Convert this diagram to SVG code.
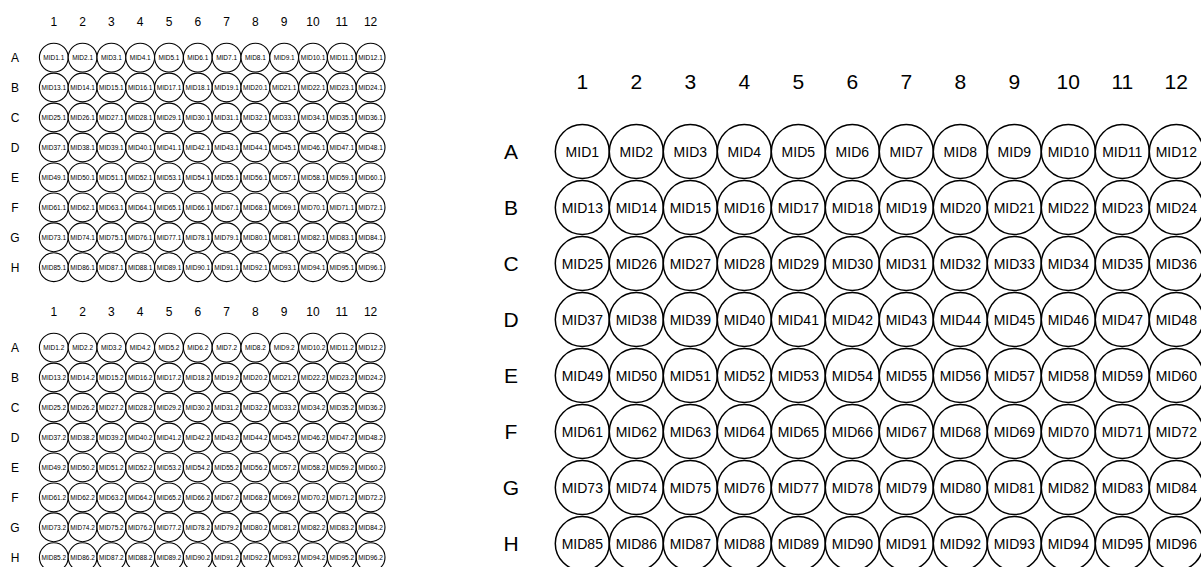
<svg xmlns="http://www.w3.org/2000/svg" width="1201" height="567" viewBox="0 0 1201 567">
<style>
text{font-family:"Liberation Sans",Arial,Helvetica,sans-serif;fill:#000;text-anchor:middle}
.cs{fill:#fff;stroke:#000;stroke-width:1.1}
.cl{fill:#fff;stroke:#000;stroke-width:1.5}
.ts{font-size:6.5px}
.tl{font-size:14px}
.hs{font-size:12px}
.hl{font-size:21px}
</style>
<rect width="1201" height="567" fill="#fff"/>
<defs>
<circle id="cS" class="cs" r="14.4"/>
<circle id="cL" class="cl" r="27"/>
</defs>
<g id="connectors"></g>

<g id="plate1">
<g id="plate1-headers" class="hs">
<text x="53.8" y="26">1</text><text x="82.6" y="26">2</text><text x="111.4" y="26">3</text><text x="140.2" y="26">4</text><text x="169" y="26">5</text><text x="197.8" y="26">6</text><text x="226.6" y="26">7</text><text x="255.4" y="26">8</text><text x="284.2" y="26">9</text><text x="313" y="26">10</text><text x="341.8" y="26">11</text><text x="370.6" y="26">12</text>
<text x="15" y="61.9">A</text><text x="15" y="91.8">B</text><text x="15" y="121.8">C</text><text x="15" y="151.8">D</text><text x="15" y="181.7">E</text><text x="15" y="211.7">F</text><text x="15" y="241.6">G</text><text x="15" y="271.5">H</text>
</g>
<g id="p1-A1" transform="translate(53.8 57.6)"><use href="#cS"/><text class="ts" dy="2.3">MID1.1</text></g>
<g id="p1-A2" transform="translate(82.6 57.6)"><use href="#cS"/><text class="ts" dy="2.3">MID2.1</text></g>
<g id="p1-A3" transform="translate(111.4 57.6)"><use href="#cS"/><text class="ts" dy="2.3">MID3.1</text></g>
<g id="p1-A4" transform="translate(140.2 57.6)"><use href="#cS"/><text class="ts" dy="2.3">MID4.1</text></g>
<g id="p1-A5" transform="translate(169 57.6)"><use href="#cS"/><text class="ts" dy="2.3">MID5.1</text></g>
<g id="p1-A6" transform="translate(197.8 57.6)"><use href="#cS"/><text class="ts" dy="2.3">MID6.1</text></g>
<g id="p1-A7" transform="translate(226.6 57.6)"><use href="#cS"/><text class="ts" dy="2.3">MID7.1</text></g>
<g id="p1-A8" transform="translate(255.4 57.6)"><use href="#cS"/><text class="ts" dy="2.3">MID8.1</text></g>
<g id="p1-A9" transform="translate(284.2 57.6)"><use href="#cS"/><text class="ts" dy="2.3">MID9.1</text></g>
<g id="p1-A10" transform="translate(313 57.6)"><use href="#cS"/><text class="ts" dy="2.3">MID10.1</text></g>
<g id="p1-A11" transform="translate(341.8 57.6)"><use href="#cS"/><text class="ts" dy="2.3">MID11.1</text></g>
<g id="p1-A12" transform="translate(370.6 57.6)"><use href="#cS"/><text class="ts" dy="2.3">MID12.1</text></g>
<g id="p1-B1" transform="translate(53.8 87.5)"><use href="#cS"/><text class="ts" dy="2.3">MID13.1</text></g>
<g id="p1-B2" transform="translate(82.6 87.5)"><use href="#cS"/><text class="ts" dy="2.3">MID14.1</text></g>
<g id="p1-B3" transform="translate(111.4 87.5)"><use href="#cS"/><text class="ts" dy="2.3">MID15.1</text></g>
<g id="p1-B4" transform="translate(140.2 87.5)"><use href="#cS"/><text class="ts" dy="2.3">MID16.1</text></g>
<g id="p1-B5" transform="translate(169 87.5)"><use href="#cS"/><text class="ts" dy="2.3">MID17.1</text></g>
<g id="p1-B6" transform="translate(197.8 87.5)"><use href="#cS"/><text class="ts" dy="2.3">MID18.1</text></g>
<g id="p1-B7" transform="translate(226.6 87.5)"><use href="#cS"/><text class="ts" dy="2.3">MID19.1</text></g>
<g id="p1-B8" transform="translate(255.4 87.5)"><use href="#cS"/><text class="ts" dy="2.3">MID20.1</text></g>
<g id="p1-B9" transform="translate(284.2 87.5)"><use href="#cS"/><text class="ts" dy="2.3">MID21.1</text></g>
<g id="p1-B10" transform="translate(313 87.5)"><use href="#cS"/><text class="ts" dy="2.3">MID22.1</text></g>
<g id="p1-B11" transform="translate(341.8 87.5)"><use href="#cS"/><text class="ts" dy="2.3">MID23.1</text></g>
<g id="p1-B12" transform="translate(370.6 87.5)"><use href="#cS"/><text class="ts" dy="2.3">MID24.1</text></g>
<g id="p1-C1" transform="translate(53.8 117.5)"><use href="#cS"/><text class="ts" dy="2.3">MID25.1</text></g>
<g id="p1-C2" transform="translate(82.6 117.5)"><use href="#cS"/><text class="ts" dy="2.3">MID26.1</text></g>
<g id="p1-C3" transform="translate(111.4 117.5)"><use href="#cS"/><text class="ts" dy="2.3">MID27.1</text></g>
<g id="p1-C4" transform="translate(140.2 117.5)"><use href="#cS"/><text class="ts" dy="2.3">MID28.1</text></g>
<g id="p1-C5" transform="translate(169 117.5)"><use href="#cS"/><text class="ts" dy="2.3">MID29.1</text></g>
<g id="p1-C6" transform="translate(197.8 117.5)"><use href="#cS"/><text class="ts" dy="2.3">MID30.1</text></g>
<g id="p1-C7" transform="translate(226.6 117.5)"><use href="#cS"/><text class="ts" dy="2.3">MID31.1</text></g>
<g id="p1-C8" transform="translate(255.4 117.5)"><use href="#cS"/><text class="ts" dy="2.3">MID32.1</text></g>
<g id="p1-C9" transform="translate(284.2 117.5)"><use href="#cS"/><text class="ts" dy="2.3">MID33.1</text></g>
<g id="p1-C10" transform="translate(313 117.5)"><use href="#cS"/><text class="ts" dy="2.3">MID34.1</text></g>
<g id="p1-C11" transform="translate(341.8 117.5)"><use href="#cS"/><text class="ts" dy="2.3">MID35.1</text></g>
<g id="p1-C12" transform="translate(370.6 117.5)"><use href="#cS"/><text class="ts" dy="2.3">MID36.1</text></g>
<g id="p1-D1" transform="translate(53.8 147.5)"><use href="#cS"/><text class="ts" dy="2.3">MID37.1</text></g>
<g id="p1-D2" transform="translate(82.6 147.5)"><use href="#cS"/><text class="ts" dy="2.3">MID38.1</text></g>
<g id="p1-D3" transform="translate(111.4 147.5)"><use href="#cS"/><text class="ts" dy="2.3">MID39.1</text></g>
<g id="p1-D4" transform="translate(140.2 147.5)"><use href="#cS"/><text class="ts" dy="2.3">MID40.1</text></g>
<g id="p1-D5" transform="translate(169 147.5)"><use href="#cS"/><text class="ts" dy="2.3">MID41.1</text></g>
<g id="p1-D6" transform="translate(197.8 147.5)"><use href="#cS"/><text class="ts" dy="2.3">MID42.1</text></g>
<g id="p1-D7" transform="translate(226.6 147.5)"><use href="#cS"/><text class="ts" dy="2.3">MID43.1</text></g>
<g id="p1-D8" transform="translate(255.4 147.5)"><use href="#cS"/><text class="ts" dy="2.3">MID44.1</text></g>
<g id="p1-D9" transform="translate(284.2 147.5)"><use href="#cS"/><text class="ts" dy="2.3">MID45.1</text></g>
<g id="p1-D10" transform="translate(313 147.5)"><use href="#cS"/><text class="ts" dy="2.3">MID46.1</text></g>
<g id="p1-D11" transform="translate(341.8 147.5)"><use href="#cS"/><text class="ts" dy="2.3">MID47.1</text></g>
<g id="p1-D12" transform="translate(370.6 147.5)"><use href="#cS"/><text class="ts" dy="2.3">MID48.1</text></g>
<g id="p1-E1" transform="translate(53.8 177.4)"><use href="#cS"/><text class="ts" dy="2.3">MID49.1</text></g>
<g id="p1-E2" transform="translate(82.6 177.4)"><use href="#cS"/><text class="ts" dy="2.3">MID50.1</text></g>
<g id="p1-E3" transform="translate(111.4 177.4)"><use href="#cS"/><text class="ts" dy="2.3">MID51.1</text></g>
<g id="p1-E4" transform="translate(140.2 177.4)"><use href="#cS"/><text class="ts" dy="2.3">MID52.1</text></g>
<g id="p1-E5" transform="translate(169 177.4)"><use href="#cS"/><text class="ts" dy="2.3">MID53.1</text></g>
<g id="p1-E6" transform="translate(197.8 177.4)"><use href="#cS"/><text class="ts" dy="2.3">MID54.1</text></g>
<g id="p1-E7" transform="translate(226.6 177.4)"><use href="#cS"/><text class="ts" dy="2.3">MID55.1</text></g>
<g id="p1-E8" transform="translate(255.4 177.4)"><use href="#cS"/><text class="ts" dy="2.3">MID56.1</text></g>
<g id="p1-E9" transform="translate(284.2 177.4)"><use href="#cS"/><text class="ts" dy="2.3">MID57.1</text></g>
<g id="p1-E10" transform="translate(313 177.4)"><use href="#cS"/><text class="ts" dy="2.3">MID58.1</text></g>
<g id="p1-E11" transform="translate(341.8 177.4)"><use href="#cS"/><text class="ts" dy="2.3">MID59.1</text></g>
<g id="p1-E12" transform="translate(370.6 177.4)"><use href="#cS"/><text class="ts" dy="2.3">MID60.1</text></g>
<g id="p1-F1" transform="translate(53.8 207.4)"><use href="#cS"/><text class="ts" dy="2.3">MID61.1</text></g>
<g id="p1-F2" transform="translate(82.6 207.4)"><use href="#cS"/><text class="ts" dy="2.3">MID62.1</text></g>
<g id="p1-F3" transform="translate(111.4 207.4)"><use href="#cS"/><text class="ts" dy="2.3">MID63.1</text></g>
<g id="p1-F4" transform="translate(140.2 207.4)"><use href="#cS"/><text class="ts" dy="2.3">MID64.1</text></g>
<g id="p1-F5" transform="translate(169 207.4)"><use href="#cS"/><text class="ts" dy="2.3">MID65.1</text></g>
<g id="p1-F6" transform="translate(197.8 207.4)"><use href="#cS"/><text class="ts" dy="2.3">MID66.1</text></g>
<g id="p1-F7" transform="translate(226.6 207.4)"><use href="#cS"/><text class="ts" dy="2.3">MID67.1</text></g>
<g id="p1-F8" transform="translate(255.4 207.4)"><use href="#cS"/><text class="ts" dy="2.3">MID68.1</text></g>
<g id="p1-F9" transform="translate(284.2 207.4)"><use href="#cS"/><text class="ts" dy="2.3">MID69.1</text></g>
<g id="p1-F10" transform="translate(313 207.4)"><use href="#cS"/><text class="ts" dy="2.3">MID70.1</text></g>
<g id="p1-F11" transform="translate(341.8 207.4)"><use href="#cS"/><text class="ts" dy="2.3">MID71.1</text></g>
<g id="p1-F12" transform="translate(370.6 207.4)"><use href="#cS"/><text class="ts" dy="2.3">MID72.1</text></g>
<g id="p1-G1" transform="translate(53.8 237.3)"><use href="#cS"/><text class="ts" dy="2.3">MID73.1</text></g>
<g id="p1-G2" transform="translate(82.6 237.3)"><use href="#cS"/><text class="ts" dy="2.3">MID74.1</text></g>
<g id="p1-G3" transform="translate(111.4 237.3)"><use href="#cS"/><text class="ts" dy="2.3">MID75.1</text></g>
<g id="p1-G4" transform="translate(140.2 237.3)"><use href="#cS"/><text class="ts" dy="2.3">MID76.1</text></g>
<g id="p1-G5" transform="translate(169 237.3)"><use href="#cS"/><text class="ts" dy="2.3">MID77.1</text></g>
<g id="p1-G6" transform="translate(197.8 237.3)"><use href="#cS"/><text class="ts" dy="2.3">MID78.1</text></g>
<g id="p1-G7" transform="translate(226.6 237.3)"><use href="#cS"/><text class="ts" dy="2.3">MID79.1</text></g>
<g id="p1-G8" transform="translate(255.4 237.3)"><use href="#cS"/><text class="ts" dy="2.3">MID80.1</text></g>
<g id="p1-G9" transform="translate(284.2 237.3)"><use href="#cS"/><text class="ts" dy="2.3">MID81.1</text></g>
<g id="p1-G10" transform="translate(313 237.3)"><use href="#cS"/><text class="ts" dy="2.3">MID82.1</text></g>
<g id="p1-G11" transform="translate(341.8 237.3)"><use href="#cS"/><text class="ts" dy="2.3">MID83.1</text></g>
<g id="p1-G12" transform="translate(370.6 237.3)"><use href="#cS"/><text class="ts" dy="2.3">MID84.1</text></g>
<g id="p1-H1" transform="translate(53.8 267.2)"><use href="#cS"/><text class="ts" dy="2.3">MID85.1</text></g>
<g id="p1-H2" transform="translate(82.6 267.2)"><use href="#cS"/><text class="ts" dy="2.3">MID86.1</text></g>
<g id="p1-H3" transform="translate(111.4 267.2)"><use href="#cS"/><text class="ts" dy="2.3">MID87.1</text></g>
<g id="p1-H4" transform="translate(140.2 267.2)"><use href="#cS"/><text class="ts" dy="2.3">MID88.1</text></g>
<g id="p1-H5" transform="translate(169 267.2)"><use href="#cS"/><text class="ts" dy="2.3">MID89.1</text></g>
<g id="p1-H6" transform="translate(197.8 267.2)"><use href="#cS"/><text class="ts" dy="2.3">MID90.1</text></g>
<g id="p1-H7" transform="translate(226.6 267.2)"><use href="#cS"/><text class="ts" dy="2.3">MID91.1</text></g>
<g id="p1-H8" transform="translate(255.4 267.2)"><use href="#cS"/><text class="ts" dy="2.3">MID92.1</text></g>
<g id="p1-H9" transform="translate(284.2 267.2)"><use href="#cS"/><text class="ts" dy="2.3">MID93.1</text></g>
<g id="p1-H10" transform="translate(313 267.2)"><use href="#cS"/><text class="ts" dy="2.3">MID94.1</text></g>
<g id="p1-H11" transform="translate(341.8 267.2)"><use href="#cS"/><text class="ts" dy="2.3">MID95.1</text></g>
<g id="p1-H12" transform="translate(370.6 267.2)"><use href="#cS"/><text class="ts" dy="2.3">MID96.1</text></g>
</g>

<g id="plate2" transform="translate(0 290)">
<g id="plate2-headers" class="hs">
<text x="53.8" y="26">1</text><text x="82.6" y="26">2</text><text x="111.4" y="26">3</text><text x="140.2" y="26">4</text><text x="169" y="26">5</text><text x="197.8" y="26">6</text><text x="226.6" y="26">7</text><text x="255.4" y="26">8</text><text x="284.2" y="26">9</text><text x="313" y="26">10</text><text x="341.8" y="26">11</text><text x="370.6" y="26">12</text>
<text x="15" y="61.9">A</text><text x="15" y="91.8">B</text><text x="15" y="121.8">C</text><text x="15" y="151.8">D</text><text x="15" y="181.7">E</text><text x="15" y="211.7">F</text><text x="15" y="241.6">G</text><text x="15" y="271.5">H</text>
</g>
<g id="p2-A1" transform="translate(53.8 57.6)"><use href="#cS"/><text class="ts" dy="2.3">MID1.2</text></g>
<g id="p2-A2" transform="translate(82.6 57.6)"><use href="#cS"/><text class="ts" dy="2.3">MID2.2</text></g>
<g id="p2-A3" transform="translate(111.4 57.6)"><use href="#cS"/><text class="ts" dy="2.3">MID3.2</text></g>
<g id="p2-A4" transform="translate(140.2 57.6)"><use href="#cS"/><text class="ts" dy="2.3">MID4.2</text></g>
<g id="p2-A5" transform="translate(169 57.6)"><use href="#cS"/><text class="ts" dy="2.3">MID5.2</text></g>
<g id="p2-A6" transform="translate(197.8 57.6)"><use href="#cS"/><text class="ts" dy="2.3">MID6.2</text></g>
<g id="p2-A7" transform="translate(226.6 57.6)"><use href="#cS"/><text class="ts" dy="2.3">MID7.2</text></g>
<g id="p2-A8" transform="translate(255.4 57.6)"><use href="#cS"/><text class="ts" dy="2.3">MID8.2</text></g>
<g id="p2-A9" transform="translate(284.2 57.6)"><use href="#cS"/><text class="ts" dy="2.3">MID9.2</text></g>
<g id="p2-A10" transform="translate(313 57.6)"><use href="#cS"/><text class="ts" dy="2.3">MID10.2</text></g>
<g id="p2-A11" transform="translate(341.8 57.6)"><use href="#cS"/><text class="ts" dy="2.3">MID11.2</text></g>
<g id="p2-A12" transform="translate(370.6 57.6)"><use href="#cS"/><text class="ts" dy="2.3">MID12.2</text></g>
<g id="p2-B1" transform="translate(53.8 87.5)"><use href="#cS"/><text class="ts" dy="2.3">MID13.2</text></g>
<g id="p2-B2" transform="translate(82.6 87.5)"><use href="#cS"/><text class="ts" dy="2.3">MID14.2</text></g>
<g id="p2-B3" transform="translate(111.4 87.5)"><use href="#cS"/><text class="ts" dy="2.3">MID15.2</text></g>
<g id="p2-B4" transform="translate(140.2 87.5)"><use href="#cS"/><text class="ts" dy="2.3">MID16.2</text></g>
<g id="p2-B5" transform="translate(169 87.5)"><use href="#cS"/><text class="ts" dy="2.3">MID17.2</text></g>
<g id="p2-B6" transform="translate(197.8 87.5)"><use href="#cS"/><text class="ts" dy="2.3">MID18.2</text></g>
<g id="p2-B7" transform="translate(226.6 87.5)"><use href="#cS"/><text class="ts" dy="2.3">MID19.2</text></g>
<g id="p2-B8" transform="translate(255.4 87.5)"><use href="#cS"/><text class="ts" dy="2.3">MID20.2</text></g>
<g id="p2-B9" transform="translate(284.2 87.5)"><use href="#cS"/><text class="ts" dy="2.3">MID21.2</text></g>
<g id="p2-B10" transform="translate(313 87.5)"><use href="#cS"/><text class="ts" dy="2.3">MID22.2</text></g>
<g id="p2-B11" transform="translate(341.8 87.5)"><use href="#cS"/><text class="ts" dy="2.3">MID23.2</text></g>
<g id="p2-B12" transform="translate(370.6 87.5)"><use href="#cS"/><text class="ts" dy="2.3">MID24.2</text></g>
<g id="p2-C1" transform="translate(53.8 117.5)"><use href="#cS"/><text class="ts" dy="2.3">MID25.2</text></g>
<g id="p2-C2" transform="translate(82.6 117.5)"><use href="#cS"/><text class="ts" dy="2.3">MID26.2</text></g>
<g id="p2-C3" transform="translate(111.4 117.5)"><use href="#cS"/><text class="ts" dy="2.3">MID27.2</text></g>
<g id="p2-C4" transform="translate(140.2 117.5)"><use href="#cS"/><text class="ts" dy="2.3">MID28.2</text></g>
<g id="p2-C5" transform="translate(169 117.5)"><use href="#cS"/><text class="ts" dy="2.3">MID29.2</text></g>
<g id="p2-C6" transform="translate(197.8 117.5)"><use href="#cS"/><text class="ts" dy="2.3">MID30.2</text></g>
<g id="p2-C7" transform="translate(226.6 117.5)"><use href="#cS"/><text class="ts" dy="2.3">MID31.2</text></g>
<g id="p2-C8" transform="translate(255.4 117.5)"><use href="#cS"/><text class="ts" dy="2.3">MID32.2</text></g>
<g id="p2-C9" transform="translate(284.2 117.5)"><use href="#cS"/><text class="ts" dy="2.3">MID33.2</text></g>
<g id="p2-C10" transform="translate(313 117.5)"><use href="#cS"/><text class="ts" dy="2.3">MID34.2</text></g>
<g id="p2-C11" transform="translate(341.8 117.5)"><use href="#cS"/><text class="ts" dy="2.3">MID35.2</text></g>
<g id="p2-C12" transform="translate(370.6 117.5)"><use href="#cS"/><text class="ts" dy="2.3">MID36.2</text></g>
<g id="p2-D1" transform="translate(53.8 147.5)"><use href="#cS"/><text class="ts" dy="2.3">MID37.2</text></g>
<g id="p2-D2" transform="translate(82.6 147.5)"><use href="#cS"/><text class="ts" dy="2.3">MID38.2</text></g>
<g id="p2-D3" transform="translate(111.4 147.5)"><use href="#cS"/><text class="ts" dy="2.3">MID39.2</text></g>
<g id="p2-D4" transform="translate(140.2 147.5)"><use href="#cS"/><text class="ts" dy="2.3">MID40.2</text></g>
<g id="p2-D5" transform="translate(169 147.5)"><use href="#cS"/><text class="ts" dy="2.3">MID41.2</text></g>
<g id="p2-D6" transform="translate(197.8 147.5)"><use href="#cS"/><text class="ts" dy="2.3">MID42.2</text></g>
<g id="p2-D7" transform="translate(226.6 147.5)"><use href="#cS"/><text class="ts" dy="2.3">MID43.2</text></g>
<g id="p2-D8" transform="translate(255.4 147.5)"><use href="#cS"/><text class="ts" dy="2.3">MID44.2</text></g>
<g id="p2-D9" transform="translate(284.2 147.5)"><use href="#cS"/><text class="ts" dy="2.3">MID45.2</text></g>
<g id="p2-D10" transform="translate(313 147.5)"><use href="#cS"/><text class="ts" dy="2.3">MID46.2</text></g>
<g id="p2-D11" transform="translate(341.8 147.5)"><use href="#cS"/><text class="ts" dy="2.3">MID47.2</text></g>
<g id="p2-D12" transform="translate(370.6 147.5)"><use href="#cS"/><text class="ts" dy="2.3">MID48.2</text></g>
<g id="p2-E1" transform="translate(53.8 177.4)"><use href="#cS"/><text class="ts" dy="2.3">MID49.2</text></g>
<g id="p2-E2" transform="translate(82.6 177.4)"><use href="#cS"/><text class="ts" dy="2.3">MID50.2</text></g>
<g id="p2-E3" transform="translate(111.4 177.4)"><use href="#cS"/><text class="ts" dy="2.3">MID51.2</text></g>
<g id="p2-E4" transform="translate(140.2 177.4)"><use href="#cS"/><text class="ts" dy="2.3">MID52.2</text></g>
<g id="p2-E5" transform="translate(169 177.4)"><use href="#cS"/><text class="ts" dy="2.3">MID53.2</text></g>
<g id="p2-E6" transform="translate(197.8 177.4)"><use href="#cS"/><text class="ts" dy="2.3">MID54.2</text></g>
<g id="p2-E7" transform="translate(226.6 177.4)"><use href="#cS"/><text class="ts" dy="2.3">MID55.2</text></g>
<g id="p2-E8" transform="translate(255.4 177.4)"><use href="#cS"/><text class="ts" dy="2.3">MID56.2</text></g>
<g id="p2-E9" transform="translate(284.2 177.4)"><use href="#cS"/><text class="ts" dy="2.3">MID57.2</text></g>
<g id="p2-E10" transform="translate(313 177.4)"><use href="#cS"/><text class="ts" dy="2.3">MID58.2</text></g>
<g id="p2-E11" transform="translate(341.8 177.4)"><use href="#cS"/><text class="ts" dy="2.3">MID59.2</text></g>
<g id="p2-E12" transform="translate(370.6 177.4)"><use href="#cS"/><text class="ts" dy="2.3">MID60.2</text></g>
<g id="p2-F1" transform="translate(53.8 207.4)"><use href="#cS"/><text class="ts" dy="2.3">MID61.2</text></g>
<g id="p2-F2" transform="translate(82.6 207.4)"><use href="#cS"/><text class="ts" dy="2.3">MID62.2</text></g>
<g id="p2-F3" transform="translate(111.4 207.4)"><use href="#cS"/><text class="ts" dy="2.3">MID63.2</text></g>
<g id="p2-F4" transform="translate(140.2 207.4)"><use href="#cS"/><text class="ts" dy="2.3">MID64.2</text></g>
<g id="p2-F5" transform="translate(169 207.4)"><use href="#cS"/><text class="ts" dy="2.3">MID65.2</text></g>
<g id="p2-F6" transform="translate(197.8 207.4)"><use href="#cS"/><text class="ts" dy="2.3">MID66.2</text></g>
<g id="p2-F7" transform="translate(226.6 207.4)"><use href="#cS"/><text class="ts" dy="2.3">MID67.2</text></g>
<g id="p2-F8" transform="translate(255.4 207.4)"><use href="#cS"/><text class="ts" dy="2.3">MID68.2</text></g>
<g id="p2-F9" transform="translate(284.2 207.4)"><use href="#cS"/><text class="ts" dy="2.3">MID69.2</text></g>
<g id="p2-F10" transform="translate(313 207.4)"><use href="#cS"/><text class="ts" dy="2.3">MID70.2</text></g>
<g id="p2-F11" transform="translate(341.8 207.4)"><use href="#cS"/><text class="ts" dy="2.3">MID71.2</text></g>
<g id="p2-F12" transform="translate(370.6 207.4)"><use href="#cS"/><text class="ts" dy="2.3">MID72.2</text></g>
<g id="p2-G1" transform="translate(53.8 237.3)"><use href="#cS"/><text class="ts" dy="2.3">MID73.2</text></g>
<g id="p2-G2" transform="translate(82.6 237.3)"><use href="#cS"/><text class="ts" dy="2.3">MID74.2</text></g>
<g id="p2-G3" transform="translate(111.4 237.3)"><use href="#cS"/><text class="ts" dy="2.3">MID75.2</text></g>
<g id="p2-G4" transform="translate(140.2 237.3)"><use href="#cS"/><text class="ts" dy="2.3">MID76.2</text></g>
<g id="p2-G5" transform="translate(169 237.3)"><use href="#cS"/><text class="ts" dy="2.3">MID77.2</text></g>
<g id="p2-G6" transform="translate(197.8 237.3)"><use href="#cS"/><text class="ts" dy="2.3">MID78.2</text></g>
<g id="p2-G7" transform="translate(226.6 237.3)"><use href="#cS"/><text class="ts" dy="2.3">MID79.2</text></g>
<g id="p2-G8" transform="translate(255.4 237.3)"><use href="#cS"/><text class="ts" dy="2.3">MID80.2</text></g>
<g id="p2-G9" transform="translate(284.2 237.3)"><use href="#cS"/><text class="ts" dy="2.3">MID81.2</text></g>
<g id="p2-G10" transform="translate(313 237.3)"><use href="#cS"/><text class="ts" dy="2.3">MID82.2</text></g>
<g id="p2-G11" transform="translate(341.8 237.3)"><use href="#cS"/><text class="ts" dy="2.3">MID83.2</text></g>
<g id="p2-G12" transform="translate(370.6 237.3)"><use href="#cS"/><text class="ts" dy="2.3">MID84.2</text></g>
<g id="p2-H1" transform="translate(53.8 267.2)"><use href="#cS"/><text class="ts" dy="2.3">MID85.2</text></g>
<g id="p2-H2" transform="translate(82.6 267.2)"><use href="#cS"/><text class="ts" dy="2.3">MID86.2</text></g>
<g id="p2-H3" transform="translate(111.4 267.2)"><use href="#cS"/><text class="ts" dy="2.3">MID87.2</text></g>
<g id="p2-H4" transform="translate(140.2 267.2)"><use href="#cS"/><text class="ts" dy="2.3">MID88.2</text></g>
<g id="p2-H5" transform="translate(169 267.2)"><use href="#cS"/><text class="ts" dy="2.3">MID89.2</text></g>
<g id="p2-H6" transform="translate(197.8 267.2)"><use href="#cS"/><text class="ts" dy="2.3">MID90.2</text></g>
<g id="p2-H7" transform="translate(226.6 267.2)"><use href="#cS"/><text class="ts" dy="2.3">MID91.2</text></g>
<g id="p2-H8" transform="translate(255.4 267.2)"><use href="#cS"/><text class="ts" dy="2.3">MID92.2</text></g>
<g id="p2-H9" transform="translate(284.2 267.2)"><use href="#cS"/><text class="ts" dy="2.3">MID93.2</text></g>
<g id="p2-H10" transform="translate(313 267.2)"><use href="#cS"/><text class="ts" dy="2.3">MID94.2</text></g>
<g id="p2-H11" transform="translate(341.8 267.2)"><use href="#cS"/><text class="ts" dy="2.3">MID95.2</text></g>
<g id="p2-H12" transform="translate(370.6 267.2)"><use href="#cS"/><text class="ts" dy="2.3">MID96.2</text></g>
</g>

<g id="plate3">
<g id="plate3-headers" class="hl">
<text x="582.3" y="88.5">1</text><text x="636.3" y="88.5">2</text><text x="690.3" y="88.5">3</text><text x="744.3" y="88.5">4</text><text x="798.3" y="88.5">5</text><text x="852.3" y="88.5">6</text><text x="906.3" y="88.5">7</text><text x="960.3" y="88.5">8</text><text x="1014.3" y="88.5">9</text><text x="1068.3" y="88.5">10</text><text x="1122.3" y="88.5">11</text><text x="1176.3" y="88.5">12</text>
<text x="511" y="159">A</text><text x="511" y="215">B</text><text x="511" y="271">C</text><text x="511" y="327">D</text><text x="511" y="383">E</text><text x="511" y="439">F</text><text x="511" y="495">G</text><text x="511" y="551">H</text>
</g>
<g id="p3-A1" transform="translate(582.3 151.5)"><use href="#cL"/><text class="tl" dy="5">MID1</text></g>
<g id="p3-A2" transform="translate(636.3 151.5)"><use href="#cL"/><text class="tl" dy="5">MID2</text></g>
<g id="p3-A3" transform="translate(690.3 151.5)"><use href="#cL"/><text class="tl" dy="5">MID3</text></g>
<g id="p3-A4" transform="translate(744.3 151.5)"><use href="#cL"/><text class="tl" dy="5">MID4</text></g>
<g id="p3-A5" transform="translate(798.3 151.5)"><use href="#cL"/><text class="tl" dy="5">MID5</text></g>
<g id="p3-A6" transform="translate(852.3 151.5)"><use href="#cL"/><text class="tl" dy="5">MID6</text></g>
<g id="p3-A7" transform="translate(906.3 151.5)"><use href="#cL"/><text class="tl" dy="5">MID7</text></g>
<g id="p3-A8" transform="translate(960.3 151.5)"><use href="#cL"/><text class="tl" dy="5">MID8</text></g>
<g id="p3-A9" transform="translate(1014.3 151.5)"><use href="#cL"/><text class="tl" dy="5">MID9</text></g>
<g id="p3-A10" transform="translate(1068.3 151.5)"><use href="#cL"/><text class="tl" dy="5">MID10</text></g>
<g id="p3-A11" transform="translate(1122.3 151.5)"><use href="#cL"/><text class="tl" dy="5">MID11</text></g>
<g id="p3-A12" transform="translate(1176.3 151.5)"><use href="#cL"/><text class="tl" dy="5">MID12</text></g>
<g id="p3-B1" transform="translate(582.3 207.5)"><use href="#cL"/><text class="tl" dy="5">MID13</text></g>
<g id="p3-B2" transform="translate(636.3 207.5)"><use href="#cL"/><text class="tl" dy="5">MID14</text></g>
<g id="p3-B3" transform="translate(690.3 207.5)"><use href="#cL"/><text class="tl" dy="5">MID15</text></g>
<g id="p3-B4" transform="translate(744.3 207.5)"><use href="#cL"/><text class="tl" dy="5">MID16</text></g>
<g id="p3-B5" transform="translate(798.3 207.5)"><use href="#cL"/><text class="tl" dy="5">MID17</text></g>
<g id="p3-B6" transform="translate(852.3 207.5)"><use href="#cL"/><text class="tl" dy="5">MID18</text></g>
<g id="p3-B7" transform="translate(906.3 207.5)"><use href="#cL"/><text class="tl" dy="5">MID19</text></g>
<g id="p3-B8" transform="translate(960.3 207.5)"><use href="#cL"/><text class="tl" dy="5">MID20</text></g>
<g id="p3-B9" transform="translate(1014.3 207.5)"><use href="#cL"/><text class="tl" dy="5">MID21</text></g>
<g id="p3-B10" transform="translate(1068.3 207.5)"><use href="#cL"/><text class="tl" dy="5">MID22</text></g>
<g id="p3-B11" transform="translate(1122.3 207.5)"><use href="#cL"/><text class="tl" dy="5">MID23</text></g>
<g id="p3-B12" transform="translate(1176.3 207.5)"><use href="#cL"/><text class="tl" dy="5">MID24</text></g>
<g id="p3-C1" transform="translate(582.3 263.5)"><use href="#cL"/><text class="tl" dy="5">MID25</text></g>
<g id="p3-C2" transform="translate(636.3 263.5)"><use href="#cL"/><text class="tl" dy="5">MID26</text></g>
<g id="p3-C3" transform="translate(690.3 263.5)"><use href="#cL"/><text class="tl" dy="5">MID27</text></g>
<g id="p3-C4" transform="translate(744.3 263.5)"><use href="#cL"/><text class="tl" dy="5">MID28</text></g>
<g id="p3-C5" transform="translate(798.3 263.5)"><use href="#cL"/><text class="tl" dy="5">MID29</text></g>
<g id="p3-C6" transform="translate(852.3 263.5)"><use href="#cL"/><text class="tl" dy="5">MID30</text></g>
<g id="p3-C7" transform="translate(906.3 263.5)"><use href="#cL"/><text class="tl" dy="5">MID31</text></g>
<g id="p3-C8" transform="translate(960.3 263.5)"><use href="#cL"/><text class="tl" dy="5">MID32</text></g>
<g id="p3-C9" transform="translate(1014.3 263.5)"><use href="#cL"/><text class="tl" dy="5">MID33</text></g>
<g id="p3-C10" transform="translate(1068.3 263.5)"><use href="#cL"/><text class="tl" dy="5">MID34</text></g>
<g id="p3-C11" transform="translate(1122.3 263.5)"><use href="#cL"/><text class="tl" dy="5">MID35</text></g>
<g id="p3-C12" transform="translate(1176.3 263.5)"><use href="#cL"/><text class="tl" dy="5">MID36</text></g>
<g id="p3-D1" transform="translate(582.3 319.5)"><use href="#cL"/><text class="tl" dy="5">MID37</text></g>
<g id="p3-D2" transform="translate(636.3 319.5)"><use href="#cL"/><text class="tl" dy="5">MID38</text></g>
<g id="p3-D3" transform="translate(690.3 319.5)"><use href="#cL"/><text class="tl" dy="5">MID39</text></g>
<g id="p3-D4" transform="translate(744.3 319.5)"><use href="#cL"/><text class="tl" dy="5">MID40</text></g>
<g id="p3-D5" transform="translate(798.3 319.5)"><use href="#cL"/><text class="tl" dy="5">MID41</text></g>
<g id="p3-D6" transform="translate(852.3 319.5)"><use href="#cL"/><text class="tl" dy="5">MID42</text></g>
<g id="p3-D7" transform="translate(906.3 319.5)"><use href="#cL"/><text class="tl" dy="5">MID43</text></g>
<g id="p3-D8" transform="translate(960.3 319.5)"><use href="#cL"/><text class="tl" dy="5">MID44</text></g>
<g id="p3-D9" transform="translate(1014.3 319.5)"><use href="#cL"/><text class="tl" dy="5">MID45</text></g>
<g id="p3-D10" transform="translate(1068.3 319.5)"><use href="#cL"/><text class="tl" dy="5">MID46</text></g>
<g id="p3-D11" transform="translate(1122.3 319.5)"><use href="#cL"/><text class="tl" dy="5">MID47</text></g>
<g id="p3-D12" transform="translate(1176.3 319.5)"><use href="#cL"/><text class="tl" dy="5">MID48</text></g>
<g id="p3-E1" transform="translate(582.3 375.5)"><use href="#cL"/><text class="tl" dy="5">MID49</text></g>
<g id="p3-E2" transform="translate(636.3 375.5)"><use href="#cL"/><text class="tl" dy="5">MID50</text></g>
<g id="p3-E3" transform="translate(690.3 375.5)"><use href="#cL"/><text class="tl" dy="5">MID51</text></g>
<g id="p3-E4" transform="translate(744.3 375.5)"><use href="#cL"/><text class="tl" dy="5">MID52</text></g>
<g id="p3-E5" transform="translate(798.3 375.5)"><use href="#cL"/><text class="tl" dy="5">MID53</text></g>
<g id="p3-E6" transform="translate(852.3 375.5)"><use href="#cL"/><text class="tl" dy="5">MID54</text></g>
<g id="p3-E7" transform="translate(906.3 375.5)"><use href="#cL"/><text class="tl" dy="5">MID55</text></g>
<g id="p3-E8" transform="translate(960.3 375.5)"><use href="#cL"/><text class="tl" dy="5">MID56</text></g>
<g id="p3-E9" transform="translate(1014.3 375.5)"><use href="#cL"/><text class="tl" dy="5">MID57</text></g>
<g id="p3-E10" transform="translate(1068.3 375.5)"><use href="#cL"/><text class="tl" dy="5">MID58</text></g>
<g id="p3-E11" transform="translate(1122.3 375.5)"><use href="#cL"/><text class="tl" dy="5">MID59</text></g>
<g id="p3-E12" transform="translate(1176.3 375.5)"><use href="#cL"/><text class="tl" dy="5">MID60</text></g>
<g id="p3-F1" transform="translate(582.3 431.5)"><use href="#cL"/><text class="tl" dy="5">MID61</text></g>
<g id="p3-F2" transform="translate(636.3 431.5)"><use href="#cL"/><text class="tl" dy="5">MID62</text></g>
<g id="p3-F3" transform="translate(690.3 431.5)"><use href="#cL"/><text class="tl" dy="5">MID63</text></g>
<g id="p3-F4" transform="translate(744.3 431.5)"><use href="#cL"/><text class="tl" dy="5">MID64</text></g>
<g id="p3-F5" transform="translate(798.3 431.5)"><use href="#cL"/><text class="tl" dy="5">MID65</text></g>
<g id="p3-F6" transform="translate(852.3 431.5)"><use href="#cL"/><text class="tl" dy="5">MID66</text></g>
<g id="p3-F7" transform="translate(906.3 431.5)"><use href="#cL"/><text class="tl" dy="5">MID67</text></g>
<g id="p3-F8" transform="translate(960.3 431.5)"><use href="#cL"/><text class="tl" dy="5">MID68</text></g>
<g id="p3-F9" transform="translate(1014.3 431.5)"><use href="#cL"/><text class="tl" dy="5">MID69</text></g>
<g id="p3-F10" transform="translate(1068.3 431.5)"><use href="#cL"/><text class="tl" dy="5">MID70</text></g>
<g id="p3-F11" transform="translate(1122.3 431.5)"><use href="#cL"/><text class="tl" dy="5">MID71</text></g>
<g id="p3-F12" transform="translate(1176.3 431.5)"><use href="#cL"/><text class="tl" dy="5">MID72</text></g>
<g id="p3-G1" transform="translate(582.3 487.5)"><use href="#cL"/><text class="tl" dy="5">MID73</text></g>
<g id="p3-G2" transform="translate(636.3 487.5)"><use href="#cL"/><text class="tl" dy="5">MID74</text></g>
<g id="p3-G3" transform="translate(690.3 487.5)"><use href="#cL"/><text class="tl" dy="5">MID75</text></g>
<g id="p3-G4" transform="translate(744.3 487.5)"><use href="#cL"/><text class="tl" dy="5">MID76</text></g>
<g id="p3-G5" transform="translate(798.3 487.5)"><use href="#cL"/><text class="tl" dy="5">MID77</text></g>
<g id="p3-G6" transform="translate(852.3 487.5)"><use href="#cL"/><text class="tl" dy="5">MID78</text></g>
<g id="p3-G7" transform="translate(906.3 487.5)"><use href="#cL"/><text class="tl" dy="5">MID79</text></g>
<g id="p3-G8" transform="translate(960.3 487.5)"><use href="#cL"/><text class="tl" dy="5">MID80</text></g>
<g id="p3-G9" transform="translate(1014.3 487.5)"><use href="#cL"/><text class="tl" dy="5">MID81</text></g>
<g id="p3-G10" transform="translate(1068.3 487.5)"><use href="#cL"/><text class="tl" dy="5">MID82</text></g>
<g id="p3-G11" transform="translate(1122.3 487.5)"><use href="#cL"/><text class="tl" dy="5">MID83</text></g>
<g id="p3-G12" transform="translate(1176.3 487.5)"><use href="#cL"/><text class="tl" dy="5">MID84</text></g>
<g id="p3-H1" transform="translate(582.3 543.5)"><use href="#cL"/><text class="tl" dy="5">MID85</text></g>
<g id="p3-H2" transform="translate(636.3 543.5)"><use href="#cL"/><text class="tl" dy="5">MID86</text></g>
<g id="p3-H3" transform="translate(690.3 543.5)"><use href="#cL"/><text class="tl" dy="5">MID87</text></g>
<g id="p3-H4" transform="translate(744.3 543.5)"><use href="#cL"/><text class="tl" dy="5">MID88</text></g>
<g id="p3-H5" transform="translate(798.3 543.5)"><use href="#cL"/><text class="tl" dy="5">MID89</text></g>
<g id="p3-H6" transform="translate(852.3 543.5)"><use href="#cL"/><text class="tl" dy="5">MID90</text></g>
<g id="p3-H7" transform="translate(906.3 543.5)"><use href="#cL"/><text class="tl" dy="5">MID91</text></g>
<g id="p3-H8" transform="translate(960.3 543.5)"><use href="#cL"/><text class="tl" dy="5">MID92</text></g>
<g id="p3-H9" transform="translate(1014.3 543.5)"><use href="#cL"/><text class="tl" dy="5">MID93</text></g>
<g id="p3-H10" transform="translate(1068.3 543.5)"><use href="#cL"/><text class="tl" dy="5">MID94</text></g>
<g id="p3-H11" transform="translate(1122.3 543.5)"><use href="#cL"/><text class="tl" dy="5">MID95</text></g>
<g id="p3-H12" transform="translate(1176.3 543.5)"><use href="#cL"/><text class="tl" dy="5">MID96</text></g>
</g>
</svg>
